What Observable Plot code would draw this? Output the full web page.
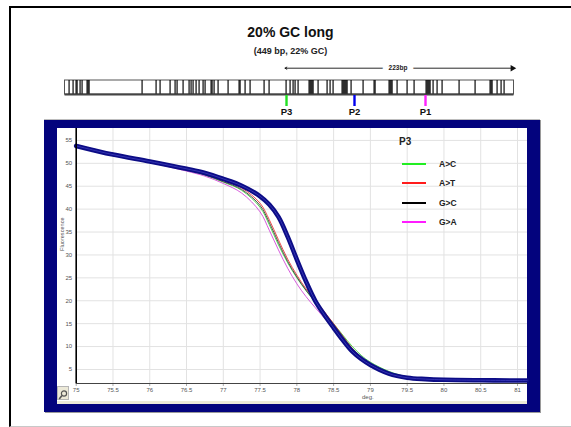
<!DOCTYPE html>
<html><head><meta charset="utf-8">
<script src="https://cdn.jsdelivr.net/npm/d3@7"></script>
<script src="https://cdn.jsdelivr.net/npm/@observablehq/plot@0.6"></script>
<style>
body{margin:0;background:#fff;font-family:"Liberation Sans",Arial,sans-serif;}
#page{position:relative;width:571px;height:427px;overflow:hidden;background:#fff;}
.abs{position:absolute;}
#frame{left:9px;top:6px;width:600px;height:418px;border-left:2px solid #000;border-top:2px solid #000;border-bottom:1px solid #c8c8c8;}
#title{left:0;width:581px;top:24.6px;text-align:center;font-weight:bold;font-size:14px;line-height:14px;color:#111;}
#subtitle{left:0;width:581px;top:47.4px;text-align:center;font-weight:bold;font-size:9px;line-height:9px;color:#222;}
#map{left:0;top:58px;}
#panel{left:44px;top:119px;width:496px;height:293px;background:#03037d;box-shadow:1px 1px 0 #9a9a9a;border-top:1px solid #bdbdbd;box-sizing:border-box;}
#inner{left:57px;top:128px;width:470px;height:276px;background:#fff;}
#strip{left:57px;top:401px;width:470px;height:3px;background:#ece9d8;}
#chart{left:57px;top:128px;}
#zoombtn{left:57px;top:386px;width:12px;height:14px;background:#ece9d8;border:1px solid #b5b5b5;box-sizing:border-box;}
.leg{position:absolute;height:10px;}
.legline{position:absolute;left:402px;width:24px;height:2px;}
.legtxt{position:absolute;left:439px;font-weight:bold;font-size:8.5px;line-height:10px;color:#222;}
#legtitle{left:399px;top:137px;font-weight:bold;font-size:10px;line-height:10px;color:#222;}
</style></head>
<body><div id="page">
<div id="frame" class="abs"></div>
<div id="title" class="abs">20% GC long</div>
<div id="subtitle" class="abs">(449 bp, 22% GC)</div>
<div id="map" class="abs"></div>
<div id="panel" class="abs"></div>
<div id="inner" class="abs"></div>
<div id="strip" class="abs"></div>
<div id="chart" class="abs"></div>
<div id="zoombtn" class="abs"><svg width="10" height="12" viewBox="0 0 10 12"><circle cx="6" cy="4.5" r="2.6" fill="none" stroke="#555" stroke-width="1.2"/><line x1="4" y1="6.6" x2="1.2" y2="10" stroke="#555" stroke-width="1.6"/></svg></div>
<div id="legend" class="abs" style="left:0;top:0;"></div>
</div>
<script>
// ---------- data ----------
const seqLength = 449;
const gcPositions = [4, 8, 11, 12, 15, 17, 22, 23, 24,
  77, 91, 95, 105, 110, 112, 118, 124, 126, 128, 131, 134, 138, 140, 146, 147, 149, 153,
  163, 174, 175, 180, 185, 199, 204,
  221, 225, 228, 230, 233, 244, 245, 246, 247, 248, 253, 262, 265, 268,
  277, 278, 279, 280, 281, 282, 286, 298, 309, 310, 324, 325, 326, 327, 332, 342, 349,
  361, 362, 363, 364, 365, 368, 372, 377, 394, 410, 425, 426, 427, 432, 436, 439];
const markerNames = ["P3", "P2", "P1"];
const markerPos = [221.5, 289.5, 360.5];
const markerColors = ["#22e022", "#0000ee", "#ff22ff"];
const spanStart = 220, spanEnd = 449, spanLabel = "223bp";

const temps = [75, 75.5, 76, 76.5, 76.75, 77, 77.25, 77.5, 77.625, 77.75, 77.875, 78, 78.125, 78.25,
  78.375, 78.5, 78.625, 78.75, 78.875, 79, 79.25, 79.5, 79.75, 80, 80.5, 81, 81.13];
const wildType = [53.8, 51.9, 50.4, 48.8, 47.9, 46.6, 45.1, 42.8, 41.0, 38.3, 34.0, 29.0, 24.2, 20.0,
  16.9, 14.1, 11.4, 9.0, 7.3, 6.0, 4.1, 3.2, 2.9, 2.75, 2.65, 2.6, 2.6];
const aToC = [53.9, 51.9, 50.3, 48.5, 47.4, 45.9, 44.1, 40.4, 36.6, 32.2, 28.3, 25.0, 22.2, 19.7,
  17.4, 15.0, 12.5, 10.1, 8.1, 6.6, 4.6, 3.4, 2.95, 2.75, 2.65, 2.6, 2.6];
const aToT = [54.0, 52.0, 50.4, 48.7, 47.7, 46.2, 44.6, 41.3, 37.7, 33.3, 29.1, 25.6, 22.6, 20.1,
  17.6, 15.0, 12.3, 9.7, 7.7, 6.2, 4.3, 3.3, 2.9, 2.75, 2.65, 2.6, 2.6];
const gToC = [53.8, 51.9, 50.3, 48.6, 47.5, 46.0, 44.3, 40.8, 37.1, 32.7, 28.6, 25.2, 22.3, 19.8,
  17.3, 14.8, 12.2, 9.6, 7.6, 6.2, 4.3, 3.3, 2.9, 2.75, 2.65, 2.6, 2.6];
const gToA = [54.1, 52.0, 50.2, 48.3, 47.2, 45.6, 43.5, 39.4, 35.4, 31.1, 27.1, 23.7, 20.9, 18.5,
  16.2, 13.9, 11.4, 9.0, 7.1, 5.8, 4.0, 3.1, 2.85, 2.75, 2.65, 2.6, 2.6];
const seriesNames = ["A>C", "A>T", "G>C", "G>A"];
const seriesValues = [aToC, aToT, gToC, gToA];
const curveColors = ["#3fd03f", "#e83a3a", "#404040", "#d24ad8"];
const legendColors = ["#22ee22", "#ff1c1c", "#000000", "#ff1cff"];
const legendTitle = "P3";
const xTicks = [75, 75.5, 76, 76.5, 77, 77.5, 78, 78.5, 79, 79.5, 80, 80.5, 81];
const yTicks = [5, 10, 15, 20, 25, 30, 35, 40, 45, 50, 55];
const xDomain = [75, 81.136];
const yDomain = [1.94, 57.6];

// ---------- sequence map ----------
const rows = {arrow: 9.7, barTop: 22, barBottom: 36, markerEnd: 48, label: 53.8};
const spanMid = (spanStart + spanEnd) / 2;
const map = Plot.plot({
  width: 571, height: 64,
  marginLeft: 64.5, marginRight: 57.5, marginTop: 0, marginBottom: 0,
  x: {domain: [0, seqLength], axis: null},
  y: {domain: [0, 64], range: [0, 64], axis: null},
  style: {background: "transparent", fontFamily: "Liberation Sans, Arial, sans-serif", overflow: "visible"},
  marks: [
    Plot.arrow([{a: spanMid, b: spanStart}], {x1: "a", x2: "b", y1: rows.arrow, y2: rows.arrow, stroke: "#111", strokeWidth: 0.9, headLength: 3.5}),
    Plot.arrow([{a: spanMid, b: spanEnd}], {x1: "a", x2: "b", y1: rows.arrow, y2: rows.arrow, stroke: "#111", strokeWidth: 0.9, headLength: 0}),
    Plot.dot([spanEnd], {x: d => d, y: rows.arrow, symbol: "triangle", r: 2.4, rotate: 90, fill: "#111", stroke: null, dx: -1.5}),
    Plot.text([spanLabel], {x: spanMid - 1.5, y: rows.arrow, text: d => d, fontSize: 6.5, fontWeight: "bold", fill: "#222", stroke: "white", strokeWidth: 12, paintOrder: "stroke"}),
    Plot.rect([seqLength], {x1: 0, x2: d => d, y1: rows.barTop, y2: rows.barBottom, fill: "white", stroke: "#555", strokeWidth: 1}),
    Plot.rect(gcPositions, {x1: d => d, x2: d => d + 1.15, y1: rows.barTop, y2: rows.barBottom, fill: "#000"}),
    Plot.ruleY([rows.barBottom], {x1: 0, x2: seqLength, stroke: "#444", strokeWidth: 2}),
    Plot.ruleX(markerPos, {x: d => d, y1: rows.barBottom + 1, y2: rows.markerEnd, stroke: (d, i) => markerColors[i], strokeWidth: 2.4}),
    Plot.text(markerPos, {x: d => d, y: rows.label, text: (d, i) => markerNames[i], fontSize: 9.5, fontWeight: "bold", fill: "#111"})
  ]
});
document.getElementById("map").appendChild(map);

// ---------- melting curves ----------
const wtData = temps.map((t, i) => ({t, v: wildType[i]}));
const mutData = seriesNames.flatMap((s, k) => temps.map((t, i) => ({t, v: seriesValues[k][i], s})));
const chart = Plot.plot({
  width: 470, height: 276,
  marginLeft: 18.7, marginRight: 0, marginTop: 0, marginBottom: 21,
  x: {domain: xDomain},
  y: {domain: yDomain},
  color: {domain: seriesNames, range: curveColors},
  style: {background: "transparent", fontFamily: "Liberation Sans, Arial, sans-serif", fontSize: "6px", color: "#5a5a5a", overflow: "visible"},
  marks: [
    Plot.gridX(xTicks.slice(1), {stroke: "#e2e2e2", strokeOpacity: 1}),
    Plot.gridY(yTicks, {stroke: "#e2e2e2", strokeOpacity: 1}),
    Plot.axisX(xTicks, {tickSize: 3, tickPadding: 1.5, tickFormat: d => String(d), label: null, stroke: "#aaa", fill: "#555"}),
    Plot.axisY(yTicks, {tickSize: 0, tickPadding: 4, label: null, fill: "#555"}),
    Plot.text(["Fluorescence"], {text: d => d, frameAnchor: "left", rotate: -90, dx: -14, dy: -5, fontSize: 5.6, fill: "#555"}),
    Plot.text(["deg."], {text: d => d, frameAnchor: "bottom", lineAnchor: "middle", dx: 66, dy: 14, fontSize: 6, fill: "#555"}),
    Plot.line(mutData, {x: "t", y: "v", z: "s", stroke: "s", strokeWidth: 0.9, curve: "catmull-rom"}),
    Plot.line(wtData, {x: "t", y: "v", stroke: "#0c0c86", strokeWidth: 4.6, curve: "catmull-rom"}),
    Plot.line(wtData, {x: "t", y: "v", stroke: "#3d3dbd", strokeWidth: 1, strokeOpacity: 0.8, curve: "catmull-rom"}),
    Plot.ruleX([xDomain[0]], {stroke: "#000", strokeWidth: 1.6}),
    Plot.ruleY([yDomain[0]], {stroke: "#444", strokeWidth: 1.2})
  ]
});
document.getElementById("chart").appendChild(chart);

// ---------- legend (HTML) ----------
const legend = document.getElementById("legend");
const lt = document.createElement("div");
lt.id = "legtitle"; lt.className = "abs"; lt.textContent = legendTitle;
legend.appendChild(lt);
const rowCenters = [164.3, 183.4, 202.6, 221.7];
seriesNames.forEach((name, i) => {
  const line = document.createElement("div");
  line.className = "legline";
  line.style.top = (rowCenters[i] - 1) + "px";
  line.style.background = legendColors[i];
  legend.appendChild(line);
  const txt = document.createElement("div");
  txt.className = "legtxt";
  txt.style.top = (rowCenters[i] - 5) + "px";
  txt.textContent = name;
  legend.appendChild(txt);
});
</script>
</body></html>
